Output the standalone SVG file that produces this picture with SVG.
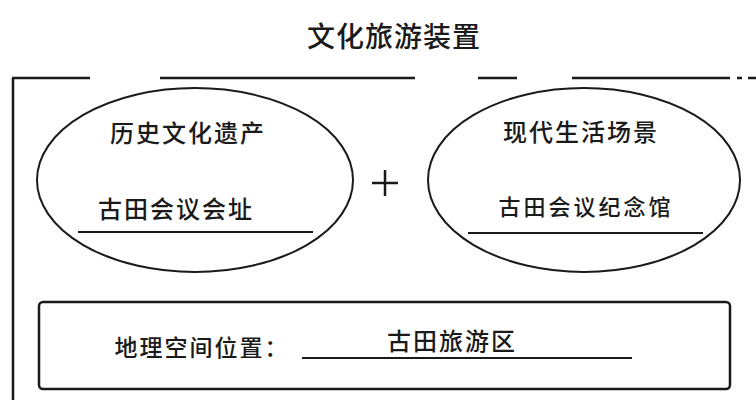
<svg xmlns="http://www.w3.org/2000/svg" width="756" height="400" viewBox="0 0 756 400">
<style>
  .t { font-family: "Noto Sans CJK SC", "Noto Sans", sans-serif; fill: #1a1a1a; text-anchor: middle; font-weight: 500; }
  .frame { stroke: #1a1a1a; stroke-width: 2.5; fill: none; }
  .ell { stroke: #1a1a1a; stroke-width: 2; fill: none; }
  .ul { stroke: #1a1a1a; stroke-width: 2; }
</style>
<rect width="756" height="400" fill="#ffffff"/>
<text class="t" x="394" y="47" font-size="28" letter-spacing="1" font-weight="700">文化旅游装置</text>
<g id="frame">
  <line class="frame" x1="13" y1="78" x2="13" y2="400"/>
  <line class="frame" x1="12" y1="78" x2="90" y2="78"/>
  <line class="frame" x1="160" y1="78" x2="415" y2="78"/>
  <line class="frame" x1="478" y1="78" x2="517" y2="78"/>
  <line class="frame" x1="572" y1="78" x2="730" y2="78"/>
  <line class="frame" x1="737" y1="78" x2="742" y2="78"/>
  <line class="frame" x1="748" y1="78" x2="756" y2="78"/>
</g>
<g id="heritage">
  <ellipse class="ell" cx="195" cy="180" rx="158" ry="92"/>
  <text class="t" x="188" y="142" font-size="24" letter-spacing="2">历史文化遗产</text>
  <text class="t" x="176" y="218" font-size="24" letter-spacing="2">古田会议会址</text>
  <line class="ul" x1="78" y1="232" x2="313" y2="232"/>
</g>
<g id="plus">
  <line class="frame" x1="372" y1="183" x2="398" y2="183" stroke-width="4"/>
  <line class="frame" x1="385" y1="170" x2="385" y2="196" stroke-width="4"/>
</g>
<g id="modern">
  <ellipse class="ell" cx="584" cy="180" rx="156" ry="92"/>
  <text class="t" x="581" y="141" font-size="24" letter-spacing="2">现代生活场景</text>
  <text class="t" x="586" y="215" font-size="22" letter-spacing="3">古田会议纪念馆</text>
  <line class="ul" x1="468" y1="233" x2="703" y2="233"/>
</g>
<g id="location">
  <rect class="frame" x="39" y="302" width="691" height="87" rx="4"/>
  <text class="t" x="202" y="356" font-size="23" letter-spacing="2">地理空间位置：</text>
  <line class="ul" x1="302" y1="358" x2="632" y2="358"/>
  <text class="t" x="452" y="350" font-size="24" letter-spacing="2">古田旅游区</text>
</g>
</svg>
